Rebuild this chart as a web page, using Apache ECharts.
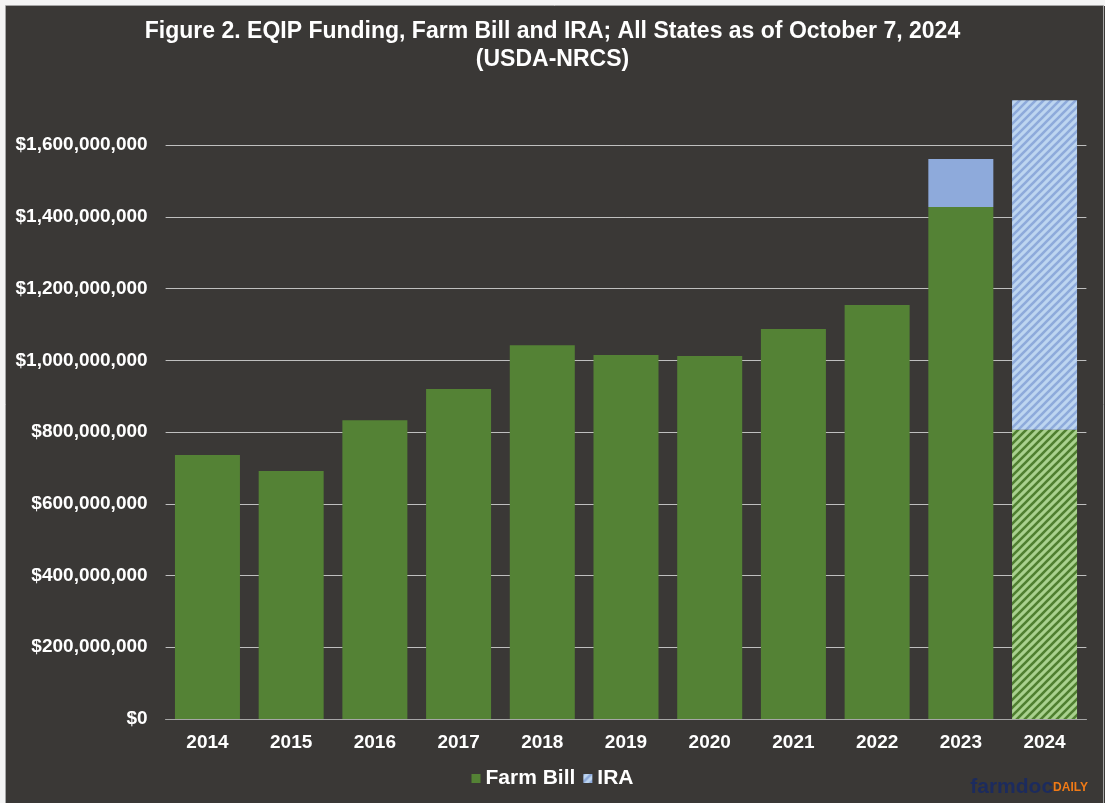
<!DOCTYPE html>
<html>
<head>
<meta charset="utf-8">
<script src="https://cdn.jsdelivr.net/npm/echarts@6/dist/echarts.min.js"></script>
<style>
  html, body { margin: 0; padding: 0; background: #3a3836; }
  #chart { width: 1105px; height: 803px; }
</style>
</head>
<body>
<div id="chart"></div>
<script>
// data
var years = ["2014", "2015", "2016", "2017", "2018", "2019", "2020", "2021", "2022", "2023", "2024"];
var farmBill = [736e6, 691e6, 833e6, 920e6, 1042e6, 1015e6, 1012e6, 1087e6, 1154e6, 1427e6, 806e6];
var ira = [0, 0, 0, 0, 0, 0, 0, 0, 0, 134e6, 919e6];
var yTicks = [0, 200e6, 400e6, 600e6, 800e6, 1000e6, 1200e6, 1400e6, 1600e6];

// diagonal hatch for the partial year
function hatch(bg, stripe) {
  var c = document.createElement("canvas");
  c.width = 8;
  c.height = 8;
  var ctx = c.getContext("2d");
  ctx.fillStyle = bg;
  ctx.fillRect(0, 0, 8, 8);
  ctx.strokeStyle = stripe;
  ctx.lineWidth = 2.6;
  ctx.beginPath();
  ctx.moveTo(-2, 2); ctx.lineTo(2, -2);
  ctx.moveTo(-2, 10); ctx.lineTo(10, -2);
  ctx.moveTo(6, 10); ctx.lineTo(10, 6);
  ctx.stroke();
  return { image: c, repeat: "repeat" };
}

var green = "#548235";
var blue = "#8eaadb";
var greenHatch = hatch("#a9d18e", "#4f7f30");
var blueHatch = hatch("#bdd5f0", "#8eaadb");

function money(v) {
  return "$" + String(Math.round(v)).replace(/\B(?=(\d{3})+(?!\d))/g, ",");
}

var farmData = farmBill.map(function(v, i) {
  if (years[i] === "2024") return { value: v, itemStyle: { color: greenHatch } };
  return v;
});
var iraData = ira.map(function(v, i) {
  if (years[i] === "2024") return { value: v, itemStyle: { color: blueHatch } };
  return v === 0 ? null : v;
});

var font = "'Liberation Sans', Arial, sans-serif";
var myChart = echarts.init(document.getElementById("chart"));
myChart.setOption({
  backgroundColor: "#3a3836",
  animation: false,
  textStyle: { fontFamily: font },
  title: {
    text: "Figure 2. EQIP Funding, Farm Bill and IRA; All States as of October 7, 2024\n(USDA-NRCS)",
    left: "center",
    top: 13,
    textStyle: { color: "#ffffff", fontSize: 23, fontWeight: "bold", lineHeight: 28, fontFamily: font }
  },
  legend: {
    bottom: 9,
    left: "center",
    itemWidth: 9,
    itemHeight: 9,
    itemGap: 8,
    icon: "rect",
    textStyle: { color: "#ffffff", fontSize: 21, fontWeight: "bold", fontFamily: font },
    data: [
      { name: "Farm Bill", itemStyle: { color: green } },
      { name: "IRA", itemStyle: { color: blueHatch } }
    ]
  },
  grid: { left: 165.6, right: 18.6, top: 73.3, bottom: 84, containLabel: false },
  xAxis: {
    type: "category",
    data: years,
    axisTick: { show: false },
    axisLine: { lineStyle: { color: "#a6a6a6", width: 1 } },
    axisLabel: { color: "#ffffff", fontSize: 19, fontWeight: "bold", margin: 14, fontFamily: font }
  },
  yAxis: {
    type: "value",
    min: 0,
    max: 1800e6,
    interval: 200e6,
    axisLine: { show: false },
    axisTick: { show: false },
    splitLine: { show: true, showMaxLine: false, lineStyle: { color: "#bfbfbf", width: 1 } },
    axisLabel: {
      color: "#ffffff",
      fontSize: 19,
      fontWeight: "bold",
      margin: 18,
      fontFamily: font,
      showMaxLabel: false,
      formatter: function(v) {
        return yTicks.indexOf(v) >= 0 ? money(v) : "";
      }
    }
  },
  series: [
    {
      name: "Farm Bill",
      type: "bar",
      stack: "total",
      barWidth: 65,
      itemStyle: { color: green },
      data: farmData
    },
    {
      name: "IRA",
      type: "bar",
      stack: "total",
      barWidth: 65,
      itemStyle: { color: blue },
      data: iraData
    }
  ],
  graphic: [
    {
      type: "rect",
      left: 0,
      top: 0,
      shape: { x: 0, y: 0, width: 1105, height: 803 },
      style: { fill: "none", stroke: "#f4f4f4", lineWidth: 6 },
      silent: true
    },
    {
      type: "rect",
      left: 3,
      top: 3,
      shape: { x: 0.5, y: 0.5, width: 1098, height: 810 },
      style: { fill: "none", stroke: "#a6a6a6", lineWidth: 1 },
      silent: true
    },
    {
      type: "text",
      right: 17,
      bottom: 5,
      style: {
        text: "{a|farmdoc}{b|DAILY}",
        rich: {
          a: { fill: "#1c2b5e", fontSize: 21, fontWeight: "bold", fontFamily: font },
          b: { fill: "#f07a16", fontSize: 12, fontWeight: "bold", fontFamily: font }
        }
      }
    }
  ]
});
</script>
</body>
</html>
